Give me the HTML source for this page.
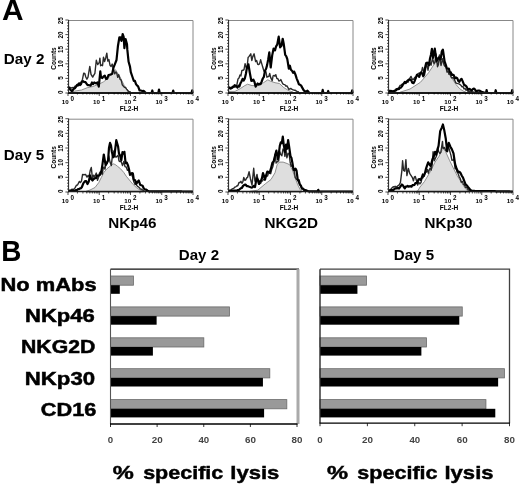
<!DOCTYPE html>
<html><head><meta charset="utf-8"><style>
html,body{margin:0;padding:0;background:#fff;width:520px;height:485px;overflow:hidden}
svg{display:block;font-family:"Liberation Sans", sans-serif;will-change:transform}
</style></head><body>
<svg width="520" height="485" viewBox="0 0 520 485">
<rect width="520" height="485" fill="#fff"/>
<text x="1.95" y="19.6" font-size="29.5" font-weight="bold" fill="#000" textLength="21.56" lengthAdjust="spacingAndGlyphs">A</text>
<text x="3.81" y="63.9" font-size="14.6" font-weight="bold" fill="#000" textLength="40.65" lengthAdjust="spacingAndGlyphs">Day 2</text>
<text x="3.82" y="159.6" font-size="14.6" font-weight="bold" fill="#000" textLength="40.42" lengthAdjust="spacingAndGlyphs">Day 5</text>
<polygon points="72.0,93.0 72.0,92.0 74.6,91.1 81.5,90.0 87.3,87.7 93.0,86.5 98.8,84.2 103.4,81.9 108.0,78.4 111.5,73.8 114.4,70.4 115.6,69.8 117.3,72.7 119.6,76.1 121.9,80.8 124.2,85.4 126.5,88.8 128.8,91.1 130.5,92.2 130.5,93.0" fill="#dedede" stroke="#777" stroke-width="0.8" stroke-linejoin="round"/>
<polyline points="68.2,87.3 69.1,87.6 70.1,87.5 71.0,87.8 72.0,88.0 73.0,87.4 74.0,88.0 75.0,86.2 76.0,86.0 77.0,85.6 78.1,85.9 79.3,83.9 80.4,82.4 81.5,82.0 82.5,79.2 83.7,73.2 84.8,73.5 85.8,77.0 86.9,79.2 88.0,77.1 89.8,66.4 91.0,74.3 92.7,77.1 93.8,75.2 94.9,73.3 96.3,60.2 97.7,64.6 99.3,62.4 99.9,58.1 100.6,65.7 101.4,65.0 102.5,65.7 103.5,57.2 104.6,61.6 105.7,58.0 106.8,53.2 107.8,61.1 108.9,59.6 110.0,65.2 111.1,66.5 112.2,64.1 113.5,69.3 114.7,73.8 115.8,71.9 116.8,73.4 117.7,77.4 118.7,74.6 120.1,79.4 121.2,80.1 122.3,84.8 123.3,86.1 124.4,87.2 125.5,87.5 126.6,89.1 127.7,90.5 128.8,92.1 129.9,91.8 130.9,92.2" fill="none" stroke="#2a2a2a" stroke-width="1.4" stroke-linejoin="round"/>
<polyline points="68.2,86.5 69.6,88.6 70.7,90.2 71.8,91.1 72.8,90.1 73.9,88.6 75.0,88.2 76.1,86.6 77.1,84.9 78.0,85.1 79.0,83.4 80.0,85.0 80.9,84.4 81.9,81.9 83.0,81.1 84.0,81.9 85.5,82.2 86.5,83.6 87.6,85.2 88.6,85.1 89.5,85.3 90.5,85.7 92.0,82.5 93.1,84.2 94.2,82.5 95.3,83.0 96.4,83.5 97.5,82.4 98.8,86.6 99.4,80.6 100.3,71.3 101.0,77.3 102.3,78.0 103.6,76.4 104.8,75.6 106.0,79.0 107.2,78.6 108.5,75.0 109.8,74.7 111.0,74.4 112.2,73.8 113.5,67.6 115.1,63.6 116.5,60.0 117.9,46.3 119.4,37.3 120.4,37.4 121.5,40.9 122.7,34.0 123.7,37.1 124.4,48.1 125.6,39.0 127.0,44.3 127.3,49.4 128.6,61.8 130.0,66.6 130.8,72.1 132.3,76.5 133.8,80.8 134.9,80.9 136.0,84.1 137.1,85.5 138.1,86.4 139.6,90.5 140.6,90.5 141.7,90.8 142.7,91.2 143.6,90.9 144.6,91.7 146.0,93.0 146.9,93.0 147.8,93.0 148.8,93.0 149.7,93.0 150.6,93.0 151.5,93.0 152.3,90.5 153.0,93.0 154.1,93.0 155.1,93.0 156.2,93.0 157.2,93.0 158.3,93.0 159.0,89.5 159.7,93.0 160.6,93.0 161.5,93.0 162.4,93.0 163.4,93.0 164.3,93.0 165.2,93.0 166.1,93.0 167.0,93.0 167.9,93.0 168.8,93.0 169.8,93.0 170.7,93.0 171.6,93.0 172.5,93.0 173.2,90.5 173.9,93.0 174.8,93.0 175.8,93.0 176.7,93.0 177.6,93.0 178.5,93.0 179.5,93.0 180.4,93.0 181.3,93.0 182.2,93.0 183.2,93.0 184.1,93.0 185.0,93.0 185.9,93.0 186.9,93.0 187.8,93.0 188.7,93.0 189.6,93.0 190.6,93.0 191.5,93.0 192.2,90.3 193.0,93.0" fill="none" stroke="#000" stroke-width="2.2" stroke-linejoin="round"/>
<polygon points="228.9,93.0 228.9,91.4 235.0,91.4 240.4,88.5 244.8,85.6 247.6,84.2 252.0,85.6 257.7,85.6 263.5,82.7 267.8,79.8 270.7,81.3 275.0,82.7 279.4,83.5 283.7,87.5 288.8,90.7 293.1,92.0 293.1,93.0" fill="#dedede" stroke="#777" stroke-width="0.8" stroke-linejoin="round"/>
<polyline points="228.9,86.5 229.9,88.3 230.9,88.2 232.0,87.1 233.0,87.8 234.0,87.1 235.0,87.0 236.0,86.8 237.0,84.2 238.0,78.9 239.0,78.0 240.0,74.9 240.9,75.9 241.9,70.4 242.9,70.3 244.0,69.6 245.1,63.6 246.2,67.6 247.2,66.4 248.1,57.5 249.1,56.4 250.8,53.8 251.8,60.5 252.7,56.9 254.1,53.8 255.6,61.6 256.6,60.4 257.7,64.3 258.7,64.6 259.6,63.7 260.6,59.8 261.7,63.6 262.8,67.3 263.9,71.1 265.0,72.2 265.9,71.6 266.9,77.2 267.8,76.6 268.8,76.5 269.7,73.5 270.7,77.6 272.2,80.7 273.1,75.8 274.0,75.4 274.9,76.1 275.8,74.7 276.9,78.6 277.9,78.7 278.9,81.0 279.8,80.7 280.8,79.6 281.8,81.7 282.7,83.7 283.7,84.4 284.8,84.6 285.9,86.2 286.9,85.8 287.8,87.3 288.8,89.4 289.9,88.8 291.0,88.5 292.0,89.4 293.1,89.8 294.1,90.2 295.0,90.2 296.0,90.8 297.0,91.4 297.9,91.7 298.9,92.2" fill="none" stroke="#2a2a2a" stroke-width="1.4" stroke-linejoin="round"/>
<polyline points="228.9,88.9 229.9,87.7 230.8,88.6 231.8,88.1 232.8,86.7 233.7,86.7 234.7,85.2 235.6,85.7 236.6,86.4 237.5,87.6 238.5,85.7 239.4,86.5 240.4,83.4 241.5,81.5 242.6,78.8 243.7,80.5 244.8,78.4 245.9,73.8 246.9,68.0 248.4,64.3 249.8,72.7 251.3,80.8 252.4,80.7 253.4,79.6 254.5,81.9 255.6,86.6 256.6,84.9 257.7,83.5 258.7,84.6 259.6,83.8 260.6,84.2 261.7,81.5 262.8,78.5 263.9,76.8 265.0,70.8 266.1,68.8 267.1,65.1 268.2,59.4 269.3,52.4 270.7,67.5 272.2,55.4 273.6,48.5 275.0,50.4 276.1,46.3 277.2,44.6 278.7,36.7 280.1,47.4 281.5,45.7 282.7,38.8 283.7,43.7 285.2,54.9 286.2,56.1 287.3,59.2 288.8,68.6 289.9,65.7 290.9,69.8 292.0,70.8 293.1,72.8 294.2,71.6 295.3,74.2 296.7,78.6 297.8,81.2 298.9,84.3 299.9,84.8 301.0,85.4 302.5,88.1 303.6,90.1 304.6,91.2 305.6,91.3 306.5,91.4 307.5,90.7 308.6,92.0 309.7,93.0 310.6,93.0 311.6,93.0 312.5,93.0 313.5,93.0 314.4,93.0 315.4,93.0 316.3,93.0 317.3,93.0 318.2,93.0 319.2,93.0 320.1,93.0 321.1,93.0 322.0,93.0 322.7,89.9 323.4,93.0 324.4,93.0 325.4,93.0 326.5,93.0 327.5,93.0 328.2,91.0 328.9,93.0 329.8,93.0 330.7,93.0 331.6,93.0 332.5,93.0 333.4,93.0 334.3,93.0 335.2,93.0 336.1,93.0 337.0,93.0 337.9,93.0 338.8,93.0 339.7,93.0 340.7,93.0 341.6,93.0 342.5,93.0 343.4,93.0 344.3,93.0 345.2,93.0 346.1,93.0 347.0,93.0 347.9,93.0 348.8,93.0 349.7,93.0 350.6,93.0 351.5,93.0 352.2,90.3 353.0,93.0" fill="none" stroke="#000" stroke-width="2.2" stroke-linejoin="round"/>
<polygon points="400.0,93.0 400.0,92.2 410.0,89.0 420.4,82.3 425.0,77.0 428.5,72.8 433.8,64.8 437.9,59.4 441.9,59.4 444.0,62.0 446.0,67.5 449.0,74.0 452.7,79.5 456.0,84.5 459.5,88.5 463.0,91.0 466.0,92.2 466.0,93.0" fill="#dedede" stroke="#777" stroke-width="0.8" stroke-linejoin="round"/>
<polyline points="388.9,91.8 389.9,91.8 390.9,90.6 392.0,90.6 393.0,91.6 394.0,90.9 395.0,90.3 396.0,89.0 397.0,89.0 398.0,88.2 399.0,87.4 400.0,85.5 401.0,85.2 402.0,84.1 403.0,84.2 404.2,83.5 405.5,81.6 406.8,81.2 408.0,82.3 409.0,80.3 410.0,77.9 411.0,76.4 412.2,79.2 413.5,79.3 414.8,77.3 416.0,77.9 417.2,74.5 418.5,73.3 419.5,73.0 420.5,73.7 421.5,72.0 422.5,67.4 423.5,71.0 424.5,75.2 425.5,69.8 426.5,62.5 428.0,70.2 429.5,61.4 431.0,65.3 432.5,58.3 434.0,63.8 435.0,61.4 436.0,53.9 437.5,66.7 438.4,64.8 439.4,55.0 441.0,65.5 442.5,58.8 444.0,64.8 445.0,66.4 446.0,67.0 447.0,72.1 448.0,71.0 449.0,74.3 450.0,72.6 451.0,76.8 452.0,78.0 453.2,77.5 454.5,79.9 455.8,82.8 457.0,83.3 458.2,83.7 459.5,84.1 460.8,85.2 462.0,86.9 463.0,86.4 464.0,88.9 465.0,88.3 466.0,90.2 467.0,89.8 468.0,91.4 469.0,91.3 470.0,91.4 471.0,91.5 472.0,91.7 473.0,91.9 474.0,92.1 475.0,92.3" fill="none" stroke="#2a2a2a" stroke-width="1.4" stroke-linejoin="round"/>
<polyline points="388.9,90.4 390.0,91.2 391.0,90.8 392.1,91.6 393.2,91.7 394.2,90.9 395.1,90.8 396.1,90.3 397.1,89.0 398.0,89.2 399.0,88.9 400.0,87.8 400.9,87.6 401.9,86.4 402.9,84.6 403.8,83.3 404.8,82.0 405.7,83.1 406.7,81.8 407.6,80.6 408.8,79.7 410.0,79.6 411.2,80.2 412.3,82.7 413.5,83.2 414.6,81.2 415.8,77.9 416.9,74.8 418.0,75.2 419.2,76.9 420.1,74.1 421.0,72.3 422.1,73.3 423.3,76.3 425.0,68.0 426.1,63.3 427.3,62.6 429.0,65.2 430.0,58.5 430.9,54.9 431.9,48.9 433.1,57.8 434.8,48.7 436.5,61.3 437.6,59.1 438.8,57.3 439.7,58.8 440.6,59.4 441.8,51.3 442.9,49.6 444.6,61.3 445.8,64.8 446.9,68.5 447.9,68.8 448.8,68.6 449.8,72.0 450.8,72.3 451.7,74.9 452.7,74.6 453.8,75.3 455.0,78.3 456.1,77.5 457.2,78.1 458.4,81.2 459.4,81.8 460.5,79.8 461.5,78.8 462.5,80.9 464.2,85.1 465.4,85.4 466.5,86.6 467.7,88.9 468.6,89.7 469.5,88.9 470.6,89.7 471.8,90.4 472.9,89.0 474.0,88.6 475.1,89.6 476.2,91.5 477.1,91.0 478.1,90.6 479.0,90.7 480.0,90.9 481.0,91.6 482.0,92.0 483.0,92.2 484.0,92.5 485.0,92.8 486.0,93.0 486.6,90.0 487.3,93.0 488.3,93.0 489.2,93.0 490.2,93.0 491.1,93.0 492.1,93.0 493.1,93.0 494.0,93.0 495.0,93.0 495.7,90.2 496.4,93.0 497.3,93.0 498.3,93.0 499.2,93.0 500.2,93.0 501.1,93.0 502.1,93.0 503.0,93.0 503.9,93.0 504.9,93.0 505.8,93.0 506.8,93.0 507.7,93.0 508.7,93.0 509.6,93.0 510.6,93.0 511.5,93.0 512.2,90.1 513.0,93.0" fill="none" stroke="#000" stroke-width="2.2" stroke-linejoin="round"/>
<polygon points="86.0,192.0 86.0,191.3 90.0,190.0 95.0,187.5 98.8,182.5 101.3,177.5 103.8,172.5 106.9,168.8 110.0,166.3 113.1,163.8 115.0,164.4 117.5,166.3 120.6,168.8 123.8,172.5 126.3,176.3 129.4,180.0 132.5,183.8 136.3,187.5 140.0,190.0 143.8,191.3 143.8,192.0" fill="#dedede" stroke="#777" stroke-width="0.8" stroke-linejoin="round"/>
<polyline points="68.9,190.7 70.0,190.1 71.1,190.0 72.1,189.1 73.2,189.7 74.3,188.8 75.3,187.4 76.4,185.2 77.5,185.0 78.5,183.1 79.4,181.4 80.4,182.6 81.5,181.0 82.6,174.4 84.0,174.7 85.5,174.4 87.0,177.1 88.0,175.6 89.0,176.6 90.2,170.6 91.3,167.5 92.5,178.9 93.5,175.1 94.5,177.1 96.3,173.1 97.5,180.3 98.5,177.5 99.4,173.4 100.3,171.8 101.3,171.2 102.2,174.3 103.2,168.4 104.1,166.9 105.0,169.2 106.0,163.1 106.9,163.5 107.8,161.0 108.8,156.0 110.0,162.1 111.3,165.6 112.5,154.9 113.8,151.0 115.0,156.8 116.3,157.1 118.1,155.3 119.0,160.9 120.0,161.6 121.2,161.6 122.5,165.6 123.8,161.4 125.0,166.6 126.2,167.0 127.5,170.4 128.8,169.1 130.0,174.9 131.2,173.6 132.5,176.6 133.8,181.8 135.0,184.4 136.2,184.6 137.5,186.4 138.4,186.8 139.4,187.7 140.4,189.1 141.3,189.1 142.7,190.0 144.0,191.2" fill="none" stroke="#2a2a2a" stroke-width="1.4" stroke-linejoin="round"/>
<polyline points="68.9,191.0 69.9,190.9 70.8,190.8 71.8,190.7 72.8,190.6 73.7,190.5 74.7,191.0 75.8,190.1 76.8,190.3 77.9,189.2 79.0,189.1 80.0,188.3 80.9,188.3 81.9,187.0 83.3,183.3 85.0,181.1 86.2,181.2 87.5,184.1 88.8,181.4 90.0,175.4 91.2,179.1 92.5,180.5 93.8,178.9 95.0,178.3 96.0,178.0 96.9,175.9 97.8,175.6 98.8,175.6 100.0,174.9 101.3,171.8 102.5,164.1 103.8,154.5 105.6,165.0 106.8,163.3 108.1,160.3 109.0,147.7 110.0,142.9 111.0,145.5 111.9,152.0 113.2,157.3 114.4,156.0 115.3,148.3 116.3,140.2 118.1,146.6 119.0,153.6 120.0,155.3 121.3,160.4 122.5,152.0 123.5,153.5 124.4,151.8 125.6,163.1 126.8,162.6 128.1,165.7 129.1,169.8 130.0,174.9 130.9,173.8 131.9,173.1 132.9,173.6 133.8,179.6 135.1,180.2 136.3,183.8 137.6,181.8 138.8,180.5 140.1,184.7 141.3,185.3 142.6,185.8 143.8,188.5 145.1,189.6 146.3,189.7 147.6,190.7 148.8,191.3 149.7,191.3 150.6,191.3 151.5,191.3 152.4,191.3 153.3,191.3 154.2,191.3 155.1,191.3 156.0,191.3 156.9,191.3 157.8,191.3 158.7,191.3 159.6,191.3 160.5,191.4 161.4,191.4 162.3,191.4 163.2,191.4 164.1,191.4 165.0,191.4 165.9,191.4 166.8,191.4 167.7,191.4 168.6,191.4 169.5,191.4 170.4,191.4 171.4,191.4 172.3,191.4 173.2,191.4 174.1,191.4 175.0,191.4 175.9,191.4 176.8,191.4 177.7,191.4 178.6,191.4 179.5,191.4 180.4,191.4 181.3,191.4 182.2,191.5 183.1,191.5 184.0,191.5 184.9,191.5 185.8,191.5 186.7,191.5 187.6,191.5 188.5,191.5 189.4,191.5 190.3,191.5 191.2,191.5 192.1,191.5 193.0,191.5" fill="none" stroke="#000" stroke-width="2.2" stroke-linejoin="round"/>
<polygon points="250.0,192.0 250.0,191.3 257.7,190.2 265.7,183.5 271.0,179.5 275.0,172.8 277.1,164.8 279.1,162.1 283.1,162.1 287.1,163.5 289.8,164.8 292.5,170.2 295.2,178.2 297.8,184.9 300.5,190.2 302.0,191.3 302.0,192.0" fill="#dedede" stroke="#777" stroke-width="0.8" stroke-linejoin="round"/>
<polyline points="228.9,190.5 229.9,190.2 230.8,190.3 231.8,189.1 232.8,188.7 233.7,188.4 234.7,187.2 235.8,186.8 236.8,186.0 237.9,185.5 239.0,182.4 240.0,182.5 240.9,181.3 241.9,183.3 242.9,181.6 243.8,177.5 244.8,180.3 245.7,179.8 246.7,177.9 247.6,177.3 249.1,171.8 250.5,179.0 252.0,185.1 253.7,168.3 254.9,181.1 255.9,178.4 257.0,174.4 258.5,183.5 259.6,182.7 260.6,183.4 261.6,181.3 262.5,180.9 263.5,179.4 264.5,179.2 265.4,177.4 266.4,175.6 267.5,176.1 268.6,173.1 269.6,173.3 270.7,173.7 271.8,169.2 272.9,166.4 274.0,161.6 275.1,154.3 276.1,163.1 277.2,161.9 278.7,160.7 279.8,151.7 280.8,154.6 281.9,155.7 283.0,149.0 284.0,149.7 284.9,156.4 285.9,149.8 286.9,157.9 288.0,153.3 289.1,153.6 290.2,162.5 291.2,166.4 292.1,165.1 293.1,166.8 294.2,171.4 295.3,177.7 296.4,179.2 297.4,179.4 298.5,182.1 299.6,183.9 300.6,185.7 301.7,189.0 302.7,188.6 303.6,189.9 304.6,190.5 305.8,190.9 307.0,191.3" fill="none" stroke="#2a2a2a" stroke-width="1.4" stroke-linejoin="round"/>
<polyline points="228.9,191.0 229.9,190.9 230.8,190.9 231.8,190.8 232.7,190.7 233.7,190.7 234.6,190.6 235.6,190.5 236.5,191.0 237.5,190.2 238.6,190.4 239.7,189.1 240.8,188.3 241.9,187.9 242.9,186.1 243.8,185.2 244.8,184.7 245.7,184.7 246.7,186.2 247.6,186.1 248.6,186.5 249.5,186.8 250.5,187.2 251.5,187.6 252.4,187.5 253.4,186.0 255.0,187.0 256.0,181.4 257.0,178.4 258.0,179.8 259.0,184.0 260.0,181.3 261.0,180.6 262.0,178.0 263.0,173.0 264.0,175.8 265.0,179.8 266.1,175.3 267.3,171.7 268.4,171.9 269.7,172.5 271.0,168.4 272.4,162.7 273.7,161.3 275.1,155.4 276.4,150.6 277.8,159.3 278.8,154.0 279.8,145.8 280.8,142.4 281.8,143.1 282.8,136.7 283.8,145.3 285.1,152.0 286.1,144.5 287.1,148.8 288.1,140.0 289.1,146.5 290.5,156.2 291.5,158.1 292.5,163.5 293.5,169.7 294.5,170.2 295.5,168.6 296.5,170.5 297.8,180.1 298.8,180.2 299.8,184.5 300.9,185.6 301.9,188.1 303.2,188.8 304.5,190.3 305.9,190.1 307.2,190.9 308.5,191.3 309.4,191.3 310.3,191.3 311.2,191.3 312.1,191.3 313.1,191.3 314.0,191.3 314.9,191.3 315.8,191.3 316.7,191.3 317.6,191.3 318.3,189.8 319.0,191.5 319.9,191.5 320.8,191.5 321.8,191.5 322.7,191.5 323.6,191.5 324.5,191.5 325.4,191.5 326.4,191.5 327.3,191.5 328.2,191.5 329.1,191.5 330.0,191.5 330.9,191.5 331.9,191.5 332.8,191.5 333.7,191.5 334.6,191.5 335.5,191.5 336.5,191.5 337.4,191.5 338.3,191.5 339.2,191.5 340.1,191.5 341.1,191.5 342.0,191.5 342.9,191.5 343.8,191.5 344.7,191.5 345.6,191.5 346.6,191.5 347.5,191.5 348.4,191.5 349.3,191.5 350.2,191.5 351.2,191.5 352.1,191.5 353.0,191.5" fill="none" stroke="#000" stroke-width="2.2" stroke-linejoin="round"/>
<polygon points="416.0,192.0 416.0,191.5 417.7,191.0 420.0,187.0 424.5,181.5 430.2,171.8 435.0,162.2 438.9,156.5 441.8,150.7 443.7,148.8 445.6,151.7 449.5,160.3 453.3,168.0 457.2,175.7 462.0,183.4 465.8,189.2 468.7,191.5 468.7,192.0" fill="#dedede" stroke="#777" stroke-width="0.8" stroke-linejoin="round"/>
<polyline points="388.9,189.9 390.0,189.6 391.0,189.1 392.1,187.7 393.2,186.8 394.2,187.0 395.1,186.3 396.1,187.1 397.1,186.4 398.0,185.7 399.0,185.1 400.4,182.7 401.9,170.3 402.6,160.7 403.6,170.4 404.8,171.2 405.9,159.6 406.9,175.6 408.4,168.4 409.8,173.6 411.3,175.9 412.4,177.6 413.4,180.8 414.4,176.8 415.3,176.5 416.3,180.0 417.7,185.0 418.8,182.3 419.9,183.9 421.0,182.5 422.1,177.8 423.1,177.7 424.2,174.9 425.3,172.8 426.4,171.9 427.4,169.4 428.3,173.2 429.3,169.7 430.3,167.9 431.2,170.2 432.2,164.7 433.1,151.6 434.3,160.8 435.4,158.3 436.5,156.0 437.6,147.7 438.7,151.7 439.8,153.5 440.8,152.4 442.5,141.4 443.0,148.5 444.4,147.4 445.7,150.4 446.7,151.1 447.8,145.3 448.8,147.8 449.8,151.4 450.9,155.1 451.9,160.2 453.0,160.1 454.0,159.0 455.1,168.6 456.1,168.6 457.2,172.3 458.2,173.7 459.2,176.8 460.3,178.7 461.3,182.2 462.4,181.4 463.4,184.4 464.5,184.9 465.5,187.4 466.6,187.4 467.6,189.2 468.8,190.1 470.0,191.0" fill="none" stroke="#2a2a2a" stroke-width="1.4" stroke-linejoin="round"/>
<polyline points="388.9,190.5 389.9,190.5 390.8,190.2 391.8,190.1 392.8,190.2 393.7,189.7 394.7,188.7 395.8,188.4 396.9,188.4 397.9,187.9 399.0,188.5 400.0,187.2 400.9,185.8 401.9,184.5 402.9,185.3 403.8,187.0 404.8,188.4 405.7,186.6 406.7,186.6 407.6,185.9 408.6,186.7 409.5,186.3 410.5,186.2 411.5,186.7 412.4,185.2 413.4,185.2 414.4,184.9 415.3,183.2 416.3,183.2 417.4,182.3 418.5,179.3 419.6,179.1 420.6,179.8 421.7,177.8 422.8,174.5 423.9,175.8 425.0,172.9 426.1,168.3 427.1,165.3 428.2,162.4 429.3,164.2 430.7,166.0 432.4,159.4 433.9,156.0 435.1,151.9 436.3,154.7 437.5,149.7 438.6,145.6 440.2,131.1 441.8,127.6 442.9,124.5 444.1,129.4 445.7,138.2 447.2,151.4 448.8,142.8 450.4,146.7 451.9,149.4 453.5,153.4 455.1,164.2 456.6,168.8 458.2,172.0 459.4,171.9 460.6,173.1 461.8,175.8 462.9,177.3 464.5,181.6 465.6,184.5 466.8,185.4 468.0,187.0 469.2,188.4 470.4,189.9 471.5,190.9 472.4,190.9 473.3,190.9 474.2,190.9 475.1,191.0 476.0,191.0 476.9,191.0 477.8,191.0 478.7,191.0 479.6,191.0 480.5,191.0 481.4,191.0 482.3,191.1 483.2,191.1 484.1,191.1 485.0,191.1 485.9,191.1 486.8,191.1 487.7,191.1 488.6,191.1 489.5,191.2 490.4,191.2 491.3,191.2 492.2,191.2 493.2,191.2 494.1,191.2 495.0,191.2 495.9,191.3 496.8,191.3 497.7,191.3 498.6,191.3 499.5,191.3 500.4,191.3 501.3,191.3 502.2,191.3 503.1,191.4 504.0,191.4 504.9,191.4 505.8,191.4 506.7,191.4 507.6,191.4 508.5,191.4 509.4,191.4 510.3,191.5 511.2,191.5 512.1,191.5 513.0,191.5" fill="none" stroke="#000" stroke-width="2.2" stroke-linejoin="round"/>
<path d="M68 20.5H193V93" fill="none" stroke="#888" stroke-width="1"/>
<path d="M68.6 20V93" stroke="#222" stroke-width="1"/>
<path d="M65.39999999999999 93.00H68.6M67.0 90.08H68.6M67.0 87.16H68.6M67.0 84.24H68.6M67.0 81.32H68.6M65.39999999999999 78.40H68.6M67.0 75.48H68.6M67.0 72.56H68.6M67.0 69.64H68.6M67.0 66.72H68.6M65.39999999999999 63.80H68.6M67.0 60.88H68.6M67.0 57.96H68.6M67.0 55.04H68.6M67.0 52.12H68.6M65.39999999999999 49.20H68.6M67.0 46.28H68.6M67.0 43.36H68.6M67.0 40.44H68.6M67.0 37.52H68.6M65.39999999999999 34.60H68.6M67.0 31.68H68.6M67.0 28.76H68.6M67.0 25.84H68.6M67.0 22.92H68.6M65.39999999999999 20.00H68.6" stroke="#222" stroke-width="0.8"/>
<path d="M68 93.1H193" stroke="#1a1a1a" stroke-width="2.0"/>
<path d="M68.00 93V96M77.41 93V94.5M82.91 93V94.5M86.81 93V94.5M89.84 93V94.5M92.32 93V94.5M94.41 93V94.5M96.22 93V94.5M97.82 93V94.5M99.25 93V96M108.66 93V94.5M114.16 93V94.5M118.06 93V94.5M121.09 93V94.5M123.57 93V94.5M125.66 93V94.5M127.47 93V94.5M129.07 93V94.5M130.50 93V96M139.91 93V94.5M145.41 93V94.5M149.31 93V94.5M152.34 93V94.5M154.82 93V94.5M156.91 93V94.5M158.72 93V94.5M160.32 93V94.5M161.75 93V96M171.16 93V94.5M176.66 93V94.5M180.56 93V94.5M183.59 93V94.5M186.07 93V94.5M188.16 93V94.5M189.97 93V94.5M191.57 93V94.5M193 93V96" stroke="#000" stroke-width="0.7"/>
<text transform="translate(63.0,92.30) rotate(-90)" font-size="6.3" font-weight="bold" text-anchor="middle" fill="#000">0</text>
<text transform="translate(63.0,78.00) rotate(-90)" font-size="6.3" font-weight="bold" text-anchor="middle" fill="#000">5</text>
<text transform="translate(63.0,63.70) rotate(-90)" font-size="6.3" font-weight="bold" text-anchor="middle" fill="#000">10</text>
<text transform="translate(63.0,49.40) rotate(-90)" font-size="6.3" font-weight="bold" text-anchor="middle" fill="#000">15</text>
<text transform="translate(63.0,35.10) rotate(-90)" font-size="6.3" font-weight="bold" text-anchor="middle" fill="#000">20</text>
<text transform="translate(63.0,20.80) rotate(-90)" font-size="6.3" font-weight="bold" text-anchor="middle" fill="#000">25</text>
<text transform="translate(55.8,58.50) rotate(-90)" font-size="6.5" font-weight="bold" text-anchor="middle" fill="#000">Counts</text>
<text x="68.70" y="104" font-size="6.2" font-weight="bold" text-anchor="end" fill="#000">10</text>
<text x="70.60" y="100.8" font-size="6.3" font-weight="bold" fill="#000">0</text>
<text x="99.95" y="104" font-size="6.2" font-weight="bold" text-anchor="end" fill="#000">10</text>
<text x="101.85" y="100.8" font-size="6.3" font-weight="bold" fill="#000">1</text>
<text x="131.20" y="104" font-size="6.2" font-weight="bold" text-anchor="end" fill="#000">10</text>
<text x="133.10" y="100.8" font-size="6.3" font-weight="bold" fill="#000">2</text>
<text x="162.45" y="104" font-size="6.2" font-weight="bold" text-anchor="end" fill="#000">10</text>
<text x="164.35" y="100.8" font-size="6.3" font-weight="bold" fill="#000">3</text>
<text x="193.70" y="104" font-size="6.2" font-weight="bold" text-anchor="end" fill="#000">10</text>
<text x="195.60" y="100.8" font-size="6.3" font-weight="bold" fill="#000">4</text>
<text x="129.00" y="110.6" font-size="6.6" font-weight="bold" text-anchor="middle" fill="#000">FL2-H</text>
<path d="M228 20.5H353V93" fill="none" stroke="#888" stroke-width="1"/>
<path d="M228.6 20V93" stroke="#222" stroke-width="1"/>
<path d="M225.4 93.00H228.6M227.0 90.08H228.6M227.0 87.16H228.6M227.0 84.24H228.6M227.0 81.32H228.6M225.4 78.40H228.6M227.0 75.48H228.6M227.0 72.56H228.6M227.0 69.64H228.6M227.0 66.72H228.6M225.4 63.80H228.6M227.0 60.88H228.6M227.0 57.96H228.6M227.0 55.04H228.6M227.0 52.12H228.6M225.4 49.20H228.6M227.0 46.28H228.6M227.0 43.36H228.6M227.0 40.44H228.6M227.0 37.52H228.6M225.4 34.60H228.6M227.0 31.68H228.6M227.0 28.76H228.6M227.0 25.84H228.6M227.0 22.92H228.6M225.4 20.00H228.6" stroke="#222" stroke-width="0.8"/>
<path d="M228 93.1H353" stroke="#1a1a1a" stroke-width="2.0"/>
<path d="M228.00 93V96M237.41 93V94.5M242.91 93V94.5M246.81 93V94.5M249.84 93V94.5M252.32 93V94.5M254.41 93V94.5M256.22 93V94.5M257.82 93V94.5M259.25 93V96M268.66 93V94.5M274.16 93V94.5M278.06 93V94.5M281.09 93V94.5M283.57 93V94.5M285.66 93V94.5M287.47 93V94.5M289.07 93V94.5M290.50 93V96M299.91 93V94.5M305.41 93V94.5M309.31 93V94.5M312.34 93V94.5M314.82 93V94.5M316.91 93V94.5M318.72 93V94.5M320.32 93V94.5M321.75 93V96M331.16 93V94.5M336.66 93V94.5M340.56 93V94.5M343.59 93V94.5M346.07 93V94.5M348.16 93V94.5M349.97 93V94.5M351.57 93V94.5M353 93V96" stroke="#000" stroke-width="0.7"/>
<text transform="translate(223.0,92.30) rotate(-90)" font-size="6.3" font-weight="bold" text-anchor="middle" fill="#000">0</text>
<text transform="translate(223.0,78.00) rotate(-90)" font-size="6.3" font-weight="bold" text-anchor="middle" fill="#000">5</text>
<text transform="translate(223.0,63.70) rotate(-90)" font-size="6.3" font-weight="bold" text-anchor="middle" fill="#000">10</text>
<text transform="translate(223.0,49.40) rotate(-90)" font-size="6.3" font-weight="bold" text-anchor="middle" fill="#000">15</text>
<text transform="translate(223.0,35.10) rotate(-90)" font-size="6.3" font-weight="bold" text-anchor="middle" fill="#000">20</text>
<text transform="translate(223.0,20.80) rotate(-90)" font-size="6.3" font-weight="bold" text-anchor="middle" fill="#000">25</text>
<text transform="translate(215.8,58.50) rotate(-90)" font-size="6.5" font-weight="bold" text-anchor="middle" fill="#000">Counts</text>
<text x="228.70" y="104" font-size="6.2" font-weight="bold" text-anchor="end" fill="#000">10</text>
<text x="230.60" y="100.8" font-size="6.3" font-weight="bold" fill="#000">0</text>
<text x="259.95" y="104" font-size="6.2" font-weight="bold" text-anchor="end" fill="#000">10</text>
<text x="261.85" y="100.8" font-size="6.3" font-weight="bold" fill="#000">1</text>
<text x="291.20" y="104" font-size="6.2" font-weight="bold" text-anchor="end" fill="#000">10</text>
<text x="293.10" y="100.8" font-size="6.3" font-weight="bold" fill="#000">2</text>
<text x="322.45" y="104" font-size="6.2" font-weight="bold" text-anchor="end" fill="#000">10</text>
<text x="324.35" y="100.8" font-size="6.3" font-weight="bold" fill="#000">3</text>
<text x="353.70" y="104" font-size="6.2" font-weight="bold" text-anchor="end" fill="#000">10</text>
<text x="355.60" y="100.8" font-size="6.3" font-weight="bold" fill="#000">4</text>
<text x="289.00" y="110.6" font-size="6.6" font-weight="bold" text-anchor="middle" fill="#000">FL2-H</text>
<path d="M388 20.5H513V93" fill="none" stroke="#888" stroke-width="1"/>
<path d="M388.6 20V93" stroke="#222" stroke-width="1"/>
<path d="M385.40000000000003 93.00H388.6M387.0 90.08H388.6M387.0 87.16H388.6M387.0 84.24H388.6M387.0 81.32H388.6M385.40000000000003 78.40H388.6M387.0 75.48H388.6M387.0 72.56H388.6M387.0 69.64H388.6M387.0 66.72H388.6M385.40000000000003 63.80H388.6M387.0 60.88H388.6M387.0 57.96H388.6M387.0 55.04H388.6M387.0 52.12H388.6M385.40000000000003 49.20H388.6M387.0 46.28H388.6M387.0 43.36H388.6M387.0 40.44H388.6M387.0 37.52H388.6M385.40000000000003 34.60H388.6M387.0 31.68H388.6M387.0 28.76H388.6M387.0 25.84H388.6M387.0 22.92H388.6M385.40000000000003 20.00H388.6" stroke="#222" stroke-width="0.8"/>
<path d="M388 93.1H513" stroke="#1a1a1a" stroke-width="2.0"/>
<path d="M388.00 93V96M397.41 93V94.5M402.91 93V94.5M406.81 93V94.5M409.84 93V94.5M412.32 93V94.5M414.41 93V94.5M416.22 93V94.5M417.82 93V94.5M419.25 93V96M428.66 93V94.5M434.16 93V94.5M438.06 93V94.5M441.09 93V94.5M443.57 93V94.5M445.66 93V94.5M447.47 93V94.5M449.07 93V94.5M450.50 93V96M459.91 93V94.5M465.41 93V94.5M469.31 93V94.5M472.34 93V94.5M474.82 93V94.5M476.91 93V94.5M478.72 93V94.5M480.32 93V94.5M481.75 93V96M491.16 93V94.5M496.66 93V94.5M500.56 93V94.5M503.59 93V94.5M506.07 93V94.5M508.16 93V94.5M509.97 93V94.5M511.57 93V94.5M513 93V96" stroke="#000" stroke-width="0.7"/>
<text transform="translate(383.0,92.30) rotate(-90)" font-size="6.3" font-weight="bold" text-anchor="middle" fill="#000">0</text>
<text transform="translate(383.0,78.00) rotate(-90)" font-size="6.3" font-weight="bold" text-anchor="middle" fill="#000">5</text>
<text transform="translate(383.0,63.70) rotate(-90)" font-size="6.3" font-weight="bold" text-anchor="middle" fill="#000">10</text>
<text transform="translate(383.0,49.40) rotate(-90)" font-size="6.3" font-weight="bold" text-anchor="middle" fill="#000">15</text>
<text transform="translate(383.0,35.10) rotate(-90)" font-size="6.3" font-weight="bold" text-anchor="middle" fill="#000">20</text>
<text transform="translate(383.0,20.80) rotate(-90)" font-size="6.3" font-weight="bold" text-anchor="middle" fill="#000">25</text>
<text transform="translate(375.8,58.50) rotate(-90)" font-size="6.5" font-weight="bold" text-anchor="middle" fill="#000">Counts</text>
<text x="388.70" y="104" font-size="6.2" font-weight="bold" text-anchor="end" fill="#000">10</text>
<text x="390.60" y="100.8" font-size="6.3" font-weight="bold" fill="#000">0</text>
<text x="419.95" y="104" font-size="6.2" font-weight="bold" text-anchor="end" fill="#000">10</text>
<text x="421.85" y="100.8" font-size="6.3" font-weight="bold" fill="#000">1</text>
<text x="451.20" y="104" font-size="6.2" font-weight="bold" text-anchor="end" fill="#000">10</text>
<text x="453.10" y="100.8" font-size="6.3" font-weight="bold" fill="#000">2</text>
<text x="482.45" y="104" font-size="6.2" font-weight="bold" text-anchor="end" fill="#000">10</text>
<text x="484.35" y="100.8" font-size="6.3" font-weight="bold" fill="#000">3</text>
<text x="513.70" y="104" font-size="6.2" font-weight="bold" text-anchor="end" fill="#000">10</text>
<text x="515.60" y="100.8" font-size="6.3" font-weight="bold" fill="#000">4</text>
<text x="449.00" y="110.6" font-size="6.6" font-weight="bold" text-anchor="middle" fill="#000">FL2-H</text>
<path d="M68 119.2H193V192" fill="none" stroke="#888" stroke-width="1"/>
<path d="M68.6 118.7V192" stroke="#222" stroke-width="1"/>
<path d="M65.39999999999999 192.00H68.6M67.0 189.07H68.6M67.0 186.14H68.6M67.0 183.20H68.6M67.0 180.27H68.6M65.39999999999999 177.34H68.6M67.0 174.41H68.6M67.0 171.48H68.6M67.0 168.54H68.6M67.0 165.61H68.6M65.39999999999999 162.68H68.6M67.0 159.75H68.6M67.0 156.82H68.6M67.0 153.88H68.6M67.0 150.95H68.6M65.39999999999999 148.02H68.6M67.0 145.09H68.6M67.0 142.16H68.6M67.0 139.22H68.6M67.0 136.29H68.6M65.39999999999999 133.36H68.6M67.0 130.43H68.6M67.0 127.50H68.6M67.0 124.56H68.6M67.0 121.63H68.6M65.39999999999999 118.70H68.6" stroke="#222" stroke-width="0.8"/>
<path d="M68 191.5H193" stroke="#1a1a1a" stroke-width="1.5"/>
<path d="M68.00 192V195M77.41 192V193.5M82.91 192V193.5M86.81 192V193.5M89.84 192V193.5M92.32 192V193.5M94.41 192V193.5M96.22 192V193.5M97.82 192V193.5M99.25 192V195M108.66 192V193.5M114.16 192V193.5M118.06 192V193.5M121.09 192V193.5M123.57 192V193.5M125.66 192V193.5M127.47 192V193.5M129.07 192V193.5M130.50 192V195M139.91 192V193.5M145.41 192V193.5M149.31 192V193.5M152.34 192V193.5M154.82 192V193.5M156.91 192V193.5M158.72 192V193.5M160.32 192V193.5M161.75 192V195M171.16 192V193.5M176.66 192V193.5M180.56 192V193.5M183.59 192V193.5M186.07 192V193.5M188.16 192V193.5M189.97 192V193.5M191.57 192V193.5M193 192V195" stroke="#000" stroke-width="0.7"/>
<text transform="translate(63.0,191.30) rotate(-90)" font-size="6.3" font-weight="bold" text-anchor="middle" fill="#000">0</text>
<text transform="translate(63.0,176.94) rotate(-90)" font-size="6.3" font-weight="bold" text-anchor="middle" fill="#000">5</text>
<text transform="translate(63.0,162.58) rotate(-90)" font-size="6.3" font-weight="bold" text-anchor="middle" fill="#000">10</text>
<text transform="translate(63.0,148.22) rotate(-90)" font-size="6.3" font-weight="bold" text-anchor="middle" fill="#000">15</text>
<text transform="translate(63.0,133.86) rotate(-90)" font-size="6.3" font-weight="bold" text-anchor="middle" fill="#000">20</text>
<text transform="translate(63.0,119.50) rotate(-90)" font-size="6.3" font-weight="bold" text-anchor="middle" fill="#000">25</text>
<text transform="translate(55.8,157.35) rotate(-90)" font-size="6.5" font-weight="bold" text-anchor="middle" fill="#000">Counts</text>
<text x="68.70" y="203" font-size="6.2" font-weight="bold" text-anchor="end" fill="#000">10</text>
<text x="70.60" y="199.8" font-size="6.3" font-weight="bold" fill="#000">0</text>
<text x="99.95" y="203" font-size="6.2" font-weight="bold" text-anchor="end" fill="#000">10</text>
<text x="101.85" y="199.8" font-size="6.3" font-weight="bold" fill="#000">1</text>
<text x="131.20" y="203" font-size="6.2" font-weight="bold" text-anchor="end" fill="#000">10</text>
<text x="133.10" y="199.8" font-size="6.3" font-weight="bold" fill="#000">2</text>
<text x="162.45" y="203" font-size="6.2" font-weight="bold" text-anchor="end" fill="#000">10</text>
<text x="164.35" y="199.8" font-size="6.3" font-weight="bold" fill="#000">3</text>
<text x="193.70" y="203" font-size="6.2" font-weight="bold" text-anchor="end" fill="#000">10</text>
<text x="195.60" y="199.8" font-size="6.3" font-weight="bold" fill="#000">4</text>
<text x="129.00" y="209.6" font-size="6.6" font-weight="bold" text-anchor="middle" fill="#000">FL2-H</text>
<path d="M228 119.2H353V192" fill="none" stroke="#888" stroke-width="1"/>
<path d="M228.6 118.7V192" stroke="#222" stroke-width="1"/>
<path d="M225.4 192.00H228.6M227.0 189.07H228.6M227.0 186.14H228.6M227.0 183.20H228.6M227.0 180.27H228.6M225.4 177.34H228.6M227.0 174.41H228.6M227.0 171.48H228.6M227.0 168.54H228.6M227.0 165.61H228.6M225.4 162.68H228.6M227.0 159.75H228.6M227.0 156.82H228.6M227.0 153.88H228.6M227.0 150.95H228.6M225.4 148.02H228.6M227.0 145.09H228.6M227.0 142.16H228.6M227.0 139.22H228.6M227.0 136.29H228.6M225.4 133.36H228.6M227.0 130.43H228.6M227.0 127.50H228.6M227.0 124.56H228.6M227.0 121.63H228.6M225.4 118.70H228.6" stroke="#222" stroke-width="0.8"/>
<path d="M228 191.5H353" stroke="#1a1a1a" stroke-width="1.5"/>
<path d="M228.00 192V195M237.41 192V193.5M242.91 192V193.5M246.81 192V193.5M249.84 192V193.5M252.32 192V193.5M254.41 192V193.5M256.22 192V193.5M257.82 192V193.5M259.25 192V195M268.66 192V193.5M274.16 192V193.5M278.06 192V193.5M281.09 192V193.5M283.57 192V193.5M285.66 192V193.5M287.47 192V193.5M289.07 192V193.5M290.50 192V195M299.91 192V193.5M305.41 192V193.5M309.31 192V193.5M312.34 192V193.5M314.82 192V193.5M316.91 192V193.5M318.72 192V193.5M320.32 192V193.5M321.75 192V195M331.16 192V193.5M336.66 192V193.5M340.56 192V193.5M343.59 192V193.5M346.07 192V193.5M348.16 192V193.5M349.97 192V193.5M351.57 192V193.5M353 192V195" stroke="#000" stroke-width="0.7"/>
<text transform="translate(223.0,191.30) rotate(-90)" font-size="6.3" font-weight="bold" text-anchor="middle" fill="#000">0</text>
<text transform="translate(223.0,176.94) rotate(-90)" font-size="6.3" font-weight="bold" text-anchor="middle" fill="#000">5</text>
<text transform="translate(223.0,162.58) rotate(-90)" font-size="6.3" font-weight="bold" text-anchor="middle" fill="#000">10</text>
<text transform="translate(223.0,148.22) rotate(-90)" font-size="6.3" font-weight="bold" text-anchor="middle" fill="#000">15</text>
<text transform="translate(223.0,133.86) rotate(-90)" font-size="6.3" font-weight="bold" text-anchor="middle" fill="#000">20</text>
<text transform="translate(223.0,119.50) rotate(-90)" font-size="6.3" font-weight="bold" text-anchor="middle" fill="#000">25</text>
<text transform="translate(215.8,157.35) rotate(-90)" font-size="6.5" font-weight="bold" text-anchor="middle" fill="#000">Counts</text>
<text x="228.70" y="203" font-size="6.2" font-weight="bold" text-anchor="end" fill="#000">10</text>
<text x="230.60" y="199.8" font-size="6.3" font-weight="bold" fill="#000">0</text>
<text x="259.95" y="203" font-size="6.2" font-weight="bold" text-anchor="end" fill="#000">10</text>
<text x="261.85" y="199.8" font-size="6.3" font-weight="bold" fill="#000">1</text>
<text x="291.20" y="203" font-size="6.2" font-weight="bold" text-anchor="end" fill="#000">10</text>
<text x="293.10" y="199.8" font-size="6.3" font-weight="bold" fill="#000">2</text>
<text x="322.45" y="203" font-size="6.2" font-weight="bold" text-anchor="end" fill="#000">10</text>
<text x="324.35" y="199.8" font-size="6.3" font-weight="bold" fill="#000">3</text>
<text x="353.70" y="203" font-size="6.2" font-weight="bold" text-anchor="end" fill="#000">10</text>
<text x="355.60" y="199.8" font-size="6.3" font-weight="bold" fill="#000">4</text>
<text x="289.00" y="209.6" font-size="6.6" font-weight="bold" text-anchor="middle" fill="#000">FL2-H</text>
<path d="M388 119.2H513V192" fill="none" stroke="#888" stroke-width="1"/>
<path d="M388.6 118.7V192" stroke="#222" stroke-width="1"/>
<path d="M385.40000000000003 192.00H388.6M387.0 189.07H388.6M387.0 186.14H388.6M387.0 183.20H388.6M387.0 180.27H388.6M385.40000000000003 177.34H388.6M387.0 174.41H388.6M387.0 171.48H388.6M387.0 168.54H388.6M387.0 165.61H388.6M385.40000000000003 162.68H388.6M387.0 159.75H388.6M387.0 156.82H388.6M387.0 153.88H388.6M387.0 150.95H388.6M385.40000000000003 148.02H388.6M387.0 145.09H388.6M387.0 142.16H388.6M387.0 139.22H388.6M387.0 136.29H388.6M385.40000000000003 133.36H388.6M387.0 130.43H388.6M387.0 127.50H388.6M387.0 124.56H388.6M387.0 121.63H388.6M385.40000000000003 118.70H388.6" stroke="#222" stroke-width="0.8"/>
<path d="M388 191.5H513" stroke="#1a1a1a" stroke-width="1.5"/>
<path d="M388.00 192V195M397.41 192V193.5M402.91 192V193.5M406.81 192V193.5M409.84 192V193.5M412.32 192V193.5M414.41 192V193.5M416.22 192V193.5M417.82 192V193.5M419.25 192V195M428.66 192V193.5M434.16 192V193.5M438.06 192V193.5M441.09 192V193.5M443.57 192V193.5M445.66 192V193.5M447.47 192V193.5M449.07 192V193.5M450.50 192V195M459.91 192V193.5M465.41 192V193.5M469.31 192V193.5M472.34 192V193.5M474.82 192V193.5M476.91 192V193.5M478.72 192V193.5M480.32 192V193.5M481.75 192V195M491.16 192V193.5M496.66 192V193.5M500.56 192V193.5M503.59 192V193.5M506.07 192V193.5M508.16 192V193.5M509.97 192V193.5M511.57 192V193.5M513 192V195" stroke="#000" stroke-width="0.7"/>
<text transform="translate(383.0,191.30) rotate(-90)" font-size="6.3" font-weight="bold" text-anchor="middle" fill="#000">0</text>
<text transform="translate(383.0,176.94) rotate(-90)" font-size="6.3" font-weight="bold" text-anchor="middle" fill="#000">5</text>
<text transform="translate(383.0,162.58) rotate(-90)" font-size="6.3" font-weight="bold" text-anchor="middle" fill="#000">10</text>
<text transform="translate(383.0,148.22) rotate(-90)" font-size="6.3" font-weight="bold" text-anchor="middle" fill="#000">15</text>
<text transform="translate(383.0,133.86) rotate(-90)" font-size="6.3" font-weight="bold" text-anchor="middle" fill="#000">20</text>
<text transform="translate(383.0,119.50) rotate(-90)" font-size="6.3" font-weight="bold" text-anchor="middle" fill="#000">25</text>
<text transform="translate(375.8,157.35) rotate(-90)" font-size="6.5" font-weight="bold" text-anchor="middle" fill="#000">Counts</text>
<text x="388.70" y="203" font-size="6.2" font-weight="bold" text-anchor="end" fill="#000">10</text>
<text x="390.60" y="199.8" font-size="6.3" font-weight="bold" fill="#000">0</text>
<text x="419.95" y="203" font-size="6.2" font-weight="bold" text-anchor="end" fill="#000">10</text>
<text x="421.85" y="199.8" font-size="6.3" font-weight="bold" fill="#000">1</text>
<text x="451.20" y="203" font-size="6.2" font-weight="bold" text-anchor="end" fill="#000">10</text>
<text x="453.10" y="199.8" font-size="6.3" font-weight="bold" fill="#000">2</text>
<text x="482.45" y="203" font-size="6.2" font-weight="bold" text-anchor="end" fill="#000">10</text>
<text x="484.35" y="199.8" font-size="6.3" font-weight="bold" fill="#000">3</text>
<text x="513.70" y="203" font-size="6.2" font-weight="bold" text-anchor="end" fill="#000">10</text>
<text x="515.60" y="199.8" font-size="6.3" font-weight="bold" fill="#000">4</text>
<text x="449.00" y="209.6" font-size="6.6" font-weight="bold" text-anchor="middle" fill="#000">FL2-H</text>
<text x="108.21" y="228" font-size="14.4" font-weight="bold" fill="#000" textLength="48.26" lengthAdjust="spacingAndGlyphs">NKp46</text>
<text x="264.51" y="228" font-size="14.4" font-weight="bold" fill="#000" textLength="53.41" lengthAdjust="spacingAndGlyphs">NKG2D</text>
<text x="424.51" y="228" font-size="14.4" font-weight="bold" fill="#000" textLength="48.03" lengthAdjust="spacingAndGlyphs">NKp30</text>
<text x="1.29" y="261.3" font-size="29.5" font-weight="bold" fill="#000" textLength="20.13" lengthAdjust="spacingAndGlyphs">B</text>
<text x="0.52" y="290.5" font-size="18.8" font-weight="bold" fill="#000" stroke="#000" stroke-width="0.5" textLength="96.09" lengthAdjust="spacingAndGlyphs">No mAbs</text>
<text x="25.01" y="321.7" font-size="18.8" font-weight="bold" fill="#000" stroke="#000" stroke-width="0.5" textLength="69.78" lengthAdjust="spacingAndGlyphs">NKp46</text>
<text x="21.06" y="353.4" font-size="18.8" font-weight="bold" fill="#000" stroke="#000" stroke-width="0.5" textLength="74.25" lengthAdjust="spacingAndGlyphs">NKG2D</text>
<text x="24.80" y="384.7" font-size="18.8" font-weight="bold" fill="#000" stroke="#000" stroke-width="0.5" textLength="70.30" lengthAdjust="spacingAndGlyphs">NKp30</text>
<text x="40.87" y="415.8" font-size="18.8" font-weight="bold" fill="#000" stroke="#000" stroke-width="0.5" textLength="55.48" lengthAdjust="spacingAndGlyphs">CD16</text>
<rect x="110.5" y="276.00" width="22.93" height="9.2" fill="#999" stroke="#6a6a6a" stroke-width="0.8"/>
<rect x="110.5" y="285.20" width="9.29" height="8.6" fill="#000"/>
<rect x="110.5" y="306.90" width="118.98" height="9.2" fill="#999" stroke="#6a6a6a" stroke-width="0.8"/>
<rect x="110.5" y="316.10" width="46.12" height="8.6" fill="#000"/>
<rect x="110.5" y="337.80" width="93.33" height="9.2" fill="#999" stroke="#6a6a6a" stroke-width="0.8"/>
<rect x="110.5" y="347.00" width="42.39" height="8.6" fill="#000"/>
<rect x="110.5" y="368.70" width="159.31" height="9.2" fill="#999" stroke="#6a6a6a" stroke-width="0.8"/>
<rect x="110.5" y="377.90" width="152.43" height="8.6" fill="#000"/>
<rect x="110.5" y="399.60" width="176.32" height="9.2" fill="#999" stroke="#6a6a6a" stroke-width="0.8"/>
<rect x="110.5" y="408.80" width="153.60" height="8.6" fill="#000"/>
<path d="M110.5 269.2H299" stroke="#111" stroke-width="1.3"/>
<rect x="296.5" y="269.2" width="3" height="154.8" fill="#aaa"/>
<path d="M110.5 269.2V424" stroke="#555" stroke-width="1.1"/>
<path d="M110.0 424H297.5" stroke="#000" stroke-width="1.3"/>
<text x="107.81" y="443" font-size="9.6" font-weight="bold" fill="#444" textLength="5.39" lengthAdjust="spacingAndGlyphs">0</text>
<text x="151.68" y="443" font-size="9.6" font-weight="bold" fill="#444" textLength="10.96" lengthAdjust="spacingAndGlyphs">20</text>
<text x="198.50" y="443" font-size="9.6" font-weight="bold" fill="#444" textLength="10.75" lengthAdjust="spacingAndGlyphs">40</text>
<text x="244.93" y="443" font-size="9.6" font-weight="bold" fill="#444" textLength="10.96" lengthAdjust="spacingAndGlyphs">60</text>
<text x="291.61" y="443" font-size="9.6" font-weight="bold" fill="#444" textLength="10.91" lengthAdjust="spacingAndGlyphs">80</text>
<path d="M110.50 424V427M157.12 424V427M203.75 424V427M250.38 424V427M297.00 424V427" stroke="#000" stroke-width="0.8"/>
<text x="178.82" y="259.8" font-size="13.8" font-weight="bold" fill="#000" textLength="40.24" lengthAdjust="spacingAndGlyphs">Day 2</text>
<rect x="320" y="276.00" width="46.55" height="9.2" fill="#999" stroke="#6a6a6a" stroke-width="0.8"/>
<rect x="320" y="285.20" width="37.43" height="8.6" fill="#000"/>
<rect x="320" y="306.90" width="142.25" height="9.2" fill="#999" stroke="#6a6a6a" stroke-width="0.8"/>
<rect x="320" y="316.10" width="139.28" height="8.6" fill="#000"/>
<rect x="320" y="337.80" width="106.48" height="9.2" fill="#999" stroke="#6a6a6a" stroke-width="0.8"/>
<rect x="320" y="347.00" width="101.38" height="8.6" fill="#000"/>
<rect x="320" y="368.70" width="184.41" height="9.2" fill="#999" stroke="#6a6a6a" stroke-width="0.8"/>
<rect x="320" y="377.90" width="178.13" height="8.6" fill="#000"/>
<rect x="320" y="399.60" width="165.94" height="9.2" fill="#999" stroke="#6a6a6a" stroke-width="0.8"/>
<rect x="320" y="408.80" width="175.29" height="8.6" fill="#000"/>
<path d="M320 269.2H509.5V423.2" fill="none" stroke="#404040" stroke-width="1.3"/>
<path d="M320 269.2V423.2" stroke="#2a2a2a" stroke-width="1.4"/>
<path d="M319.5 423.2H510.0" stroke="#000" stroke-width="1.3"/>
<text x="317.31" y="443" font-size="9.6" font-weight="bold" fill="#444" textLength="5.39" lengthAdjust="spacingAndGlyphs">0</text>
<text x="361.93" y="443" font-size="9.6" font-weight="bold" fill="#444" textLength="10.96" lengthAdjust="spacingAndGlyphs">20</text>
<text x="409.50" y="443" font-size="9.6" font-weight="bold" fill="#444" textLength="10.75" lengthAdjust="spacingAndGlyphs">40</text>
<text x="456.68" y="443" font-size="9.6" font-weight="bold" fill="#444" textLength="10.96" lengthAdjust="spacingAndGlyphs">60</text>
<text x="504.11" y="443" font-size="9.6" font-weight="bold" fill="#444" textLength="10.91" lengthAdjust="spacingAndGlyphs">80</text>
<path d="M320.00 423.2V426.2M367.38 423.2V426.2M414.75 423.2V426.2M462.12 423.2V426.2M509.50 423.2V426.2" stroke="#000" stroke-width="0.8"/>
<text x="393.82" y="260.4" font-size="13.8" font-weight="bold" fill="#000" textLength="40.21" lengthAdjust="spacingAndGlyphs">Day 5</text>
<text x="112.72" y="478.5" font-size="18.5" font-weight="bold" fill="#000" stroke="#000" stroke-width="0.45" textLength="21.04" lengthAdjust="spacingAndGlyphs">%</text>
<text x="143.17" y="478.5" font-size="18.5" font-weight="bold" fill="#000" stroke="#000" stroke-width="0.45" textLength="80.14" lengthAdjust="spacingAndGlyphs">specific</text>
<text x="230.27" y="478.5" font-size="18.5" font-weight="bold" fill="#000" stroke="#000" stroke-width="0.45" textLength="49.08" lengthAdjust="spacingAndGlyphs">lysis</text>
<text x="326.92" y="478.5" font-size="18.5" font-weight="bold" fill="#000" stroke="#000" stroke-width="0.45" textLength="21.04" lengthAdjust="spacingAndGlyphs">%</text>
<text x="357.37" y="478.5" font-size="18.5" font-weight="bold" fill="#000" stroke="#000" stroke-width="0.45" textLength="80.14" lengthAdjust="spacingAndGlyphs">specific</text>
<text x="444.47" y="478.5" font-size="18.5" font-weight="bold" fill="#000" stroke="#000" stroke-width="0.45" textLength="49.08" lengthAdjust="spacingAndGlyphs">lysis</text>
</svg>
</body></html>
